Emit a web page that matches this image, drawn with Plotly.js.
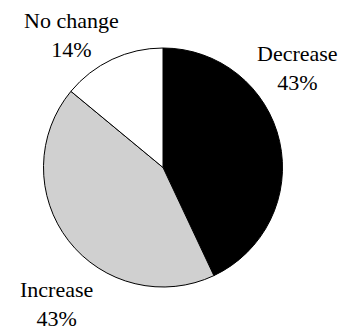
<!DOCTYPE html>
<html>
<head>
<meta charset="utf-8">
<script src="https://cdn.plot.ly/plotly-3.0.1.min.js"></script>
<style>html,body{margin:0;padding:0;background:#fff;}#chart{width:354px;height:332px;}</style>
</head>
<body>
<div id="chart"></div>
<script>
var labels = ["Decrease", "Increase", "No change"];
var values = [43, 43, 14];
var colors = ["#000000", "#d0d0d0", "#ffffff"];
var labelPos = [
  {x: 297, y: 68},
  {x: 56, y: 304},
  {x: 71, y: 35}
];

var total = values.reduce(function(a, b){ return a + b; }, 0);
var annotations = labels.map(function(l, i){
  return {
    xref: "paper", yref: "paper",
    x: labelPos[i].x / 354, y: 1 - labelPos[i].y / 332,
    xanchor: "center", yanchor: "middle",
    text: l + "<br>" + Math.round(values[i] / total * 100) + "%",
    showarrow: false,
    align: "center",
    font: {family: "Liberation Serif, serif", size: 22, color: "#000"}
  };
});

var data = [{
  type: "pie",
  labels: labels,
  values: values,
  sort: false,
  direction: "clockwise",
  rotation: 0,
  textinfo: "none",
  hoverinfo: "none",
  marker: {colors: colors, line: {color: "#000", width: 1}},
  domain: {x: [43/354, 283/354], y: [1 - 287/332, 1 - 48/332]},
  showlegend: false
}];

var layout = {
  width: 354, height: 332,
  margin: {l: 0, r: 0, t: 0, b: 0},
  paper_bgcolor: "#fff",
  showlegend: false,
  annotations: annotations
};

Plotly.newPlot("chart", data, layout, {staticPlot: true, displayModeBar: false});
</script>
</body>
</html>
